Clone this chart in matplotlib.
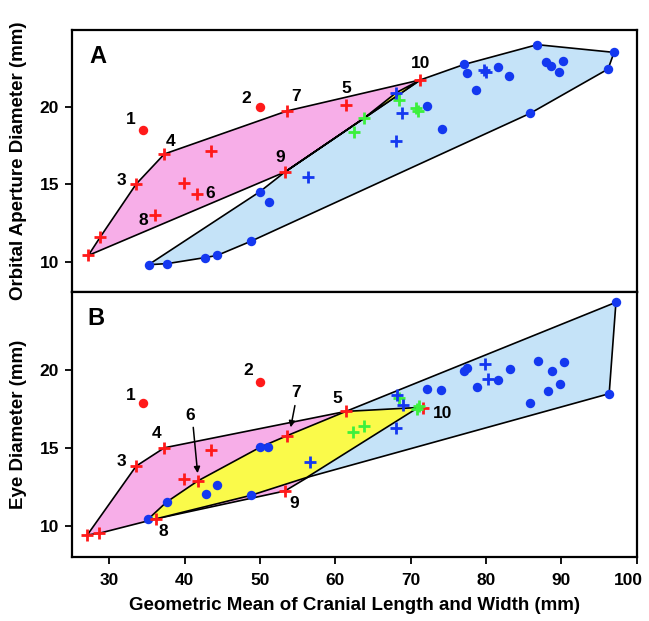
import matplotlib
matplotlib.use("Agg")
import matplotlib.pyplot as plt
import matplotlib.transforms as mtransforms
from matplotlib.patches import Polygon

plt.rcParams['font.family'] = ['Liberation Sans', 'DejaVu Sans']
plt.rcParams['font.weight'] = 'bold'

# ---- panel A : orbital aperture diameter ----
red_cross_A_x = [27.2, 28.8, 33.55, 37.3, 43.5, 39.85, 41.6, 36.1, 53.3, 53.6, 61.4, 71.3]
red_cross_A_y = [10.4, 11.6, 15.02, 16.97, 17.16, 15.06, 14.35, 13.0, 15.8, 19.76, 20.15, 21.77]
red_circ_A_x = [34.5, 50.0]
red_circ_A_y = [18.5, 20.0]
blue_circ_A_x = [35.2, 37.7, 42.7, 44.3, 48.8, 49.95, 51.2, 72.1, 74.1, 77.1, 77.5, 78.7,
                 81.6, 83.1, 86.8, 87.9, 88.6, 90.2, 89.7, 97.0, 96.2, 85.85]
blue_circ_A_y = [9.8, 9.87, 10.26, 10.4, 11.32, 14.52, 13.87, 20.08, 18.6, 22.77, 22.2, 21.1,
                 22.6, 21.99, 24.05, 22.92, 22.64, 22.96, 22.25, 23.55, 22.47, 19.6]
blue_cross_A_x = [56.4, 68.1, 68.9, 68.0, 79.7, 80.05]
blue_cross_A_y = [15.5, 20.95, 19.6, 17.83, 22.4, 22.3]
green_A_x = [62.45, 63.8, 68.5, 70.65, 70.96]
green_A_y = [18.38, 19.29, 20.47, 19.93, 19.76]

# hull outlines (data units)
pink_A = [(27.2, 10.4), (28.8, 11.6), (33.55, 15.02), (37.3, 16.97), (53.6, 19.76),
          (71.3, 21.77), (53.3, 15.8)]
blue_A = [(35.2, 9.8), (37.7, 9.87), (42.7, 10.26), (44.3, 10.4), (48.8, 11.32),
          (85.85, 19.6), (96.2, 22.47), (97.0, 23.55), (86.8, 24.05), (77.1, 22.77),
          (71.3, 21.77), (53.3, 15.8), (49.95, 14.52)]
yellow_A = [(53.3, 15.8), (63.8, 19.29), (68.1, 20.95), (71.3, 21.77)]

labels_A = ['1', '2', '3', '4', '5', '6', '7', '8', '9', '10']
labels_A_x = [32.85, 48.2, 31.65, 38.07, 61.4, 43.4, 54.8, 34.5, 52.7, 71.3]
labels_A_y = [19.18, 20.58, 15.23, 17.81, 21.23, 14.42, 20.69, 12.68, 16.73, 22.86]

# ---- panel B : eye diameter ----
red_cross_B_x = [27.07, 28.67, 33.55, 37.3, 43.5, 39.85, 41.75, 36.2, 53.3, 53.6, 61.4, 71.7]
red_cross_B_y = [9.4, 9.51, 13.83, 15.01, 14.86, 13.03, 12.88, 10.44, 12.23, 15.79, 17.35, 17.56]
red_circ_B_x = [34.5, 50.0]
red_circ_B_y = [17.89, 19.25]
blue_circ_B_x = [35.1, 37.6, 42.8, 44.3, 48.8, 50.0, 51.1, 72.1, 74.0, 77.1, 77.5, 78.8,
                 81.65, 83.2, 85.85, 86.9, 88.7, 90.3, 88.2, 89.85, 97.25, 96.35]
blue_circ_B_y = [10.4, 11.52, 12.06, 12.64, 11.95, 15.04, 15.08, 18.8, 18.75, 19.98, 20.15, 18.92,
                 19.4, 20.09, 17.89, 20.58, 19.94, 20.54, 18.69, 19.12, 24.37, 18.49]
blue_cross_B_x = [56.6, 68.2, 69.0, 68.1, 79.8, 80.2]
blue_cross_B_y = [14.11, 18.43, 17.78, 16.27, 20.37, 19.44]
green_B_x = [62.4, 63.8, 68.4, 70.8, 71.1]
green_B_y = [16.05, 16.42, 18.2, 17.5, 17.67]

pink_B = [(27.07, 9.4), (28.67, 9.51), (36.2, 10.44), (53.3, 12.23), (71.7, 17.56),
          (61.4, 17.35), (37.3, 15.01), (33.55, 13.83)]
blue_B = [(56.2, 13.1), (96.35, 18.49), (97.25, 24.37), (61.4, 17.35)]
yellow_B = [(35.1, 10.4), (37.6, 11.52), (41.75, 12.88), (50.0, 15.04), (53.6, 15.79),
            (61.4, 17.35), (71.0, 17.6), (56.2, 13.1), (48.8, 11.95), (36.2, 10.44)]

labels_B = ['1', '2', '3', '4', '5', '6', '7', '8', '9', '10']
labels_B_x = [32.85, 48.5, 31.65, 36.3, 60.2, 40.7, 54.8, 37.2, 54.6, 74.2]
labels_B_y = [18.36, 20.0, 14.11, 15.9, 18.21, 17.07, 18.58, 9.64, 11.41, 17.2]

x_ticks = [30, 40, 50, 60, 70, 80, 90, 100]
y_ticks = [10, 15, 20]

PINK = '#f7aee8'
LBLUE = '#c5e3f8'
YELLOW = '#fafa4a'
RED = '#ff1a1a'
BLUE = '#1438f0'
GREEN = '#3cf03c'


def draw_panel(ax, hulls, rc, rcirc, bc, bx, gx, labels):
    for pts, col in hulls:
        ax.add_patch(Polygon(pts, closed=True, facecolor=col, edgecolor='black',
                             linewidth=1.2, zorder=1))
    ax.plot(rcirc[0], rcirc[1], 'o', color=RED, ms=6.8, mec='none', zorder=3)
    ax.plot(bc[0], bc[1], 'o', color=BLUE, ms=6.8, mec='none', zorder=3)
    ax.plot(rc[0], rc[1], '+', color=RED, ms=8, mew=2.0, zorder=4)
    ax.plot(gx[0], gx[1], '+', color=GREEN, ms=8, mew=2.0, zorder=5)
    ax.plot(bx[0], bx[1], '+', color=BLUE, ms=8, mew=2.0, zorder=6)
    for t, x, y in zip(*labels):
        ax.text(x, y, t, fontsize=12.5, fontweight='bold', ha='center', va='center', zorder=7)
    ax.set_xlim(25, 100)
    ax.set_ylim(8, 25)
    ax.set_yticks(y_ticks)
    ax.tick_params(direction='out', length=5, width=1.3, labelsize=12.5, pad=4)
    for s in ax.spines.values():
        s.set_linewidth(1.6)


fig = plt.figure(figsize=(6.49, 6.21), dpi=100)
axA = fig.add_axes([0.1105, 0.529, 0.8705, 0.4227])
axB = fig.add_axes([0.1105, 0.1035, 0.8705, 0.4255])

draw_panel(axA, [(pink_A, PINK), (blue_A, LBLUE), (yellow_A, YELLOW)],
           (red_cross_A_x, red_cross_A_y), (red_circ_A_x, red_circ_A_y),
           (blue_circ_A_x, blue_circ_A_y), (blue_cross_A_x, blue_cross_A_y),
           (green_A_x, green_A_y), (labels_A, labels_A_x, labels_A_y))
draw_panel(axB, [(pink_B, PINK), (blue_B, LBLUE), (yellow_B, YELLOW)],
           (red_cross_B_x, red_cross_B_y), (red_circ_B_x, red_circ_B_y),
           (blue_circ_B_x, blue_circ_B_y), (blue_cross_B_x, blue_cross_B_y),
           (green_B_x, green_B_y), (labels_B, labels_B_x, labels_B_y))

axA.set_xticks([])
axB.set_xticks(x_ticks)
axB.tick_params(axis='x', pad=7)
# the last tick label sits a little inside the right edge, as in the original
last = axB.get_xticklabels()[-1]
last.set_transform(last.get_transform() +
                   mtransforms.ScaledTranslation(-6 / 72, 0, fig.dpi_scale_trans))

axA.text(28.5, 23.3, 'A', fontsize=17, fontweight='bold', ha='center', va='center')
axB.text(28.2, 23.3, 'B', fontsize=17, fontweight='bold', ha='center', va='center')

# arrows for labels 6 and 7 in panel B
axB.annotate('', xy=(41.75, 13.2), xytext=(41.1, 16.5),
             arrowprops=dict(arrowstyle='-|>', color='black', lw=1.1, mutation_scale=9))
axB.annotate('', xy=(54.0, 16.15), xytext=(54.7, 17.9),
             arrowprops=dict(arrowstyle='-|>', color='black', lw=1.1, mutation_scale=9))

axA.set_ylabel('Orbital Aperture Diameter (mm)', fontsize=13.5, fontweight='bold', labelpad=9)
axB.set_ylabel('Eye Diameter (mm)', fontsize=13.5, fontweight='bold', labelpad=9)
axB.set_xlabel('Geometric Mean of Cranial Length and Width (mm)', fontsize=13.5,
               fontweight='bold', labelpad=6)

fig.savefig('out.png', dpi=100)
